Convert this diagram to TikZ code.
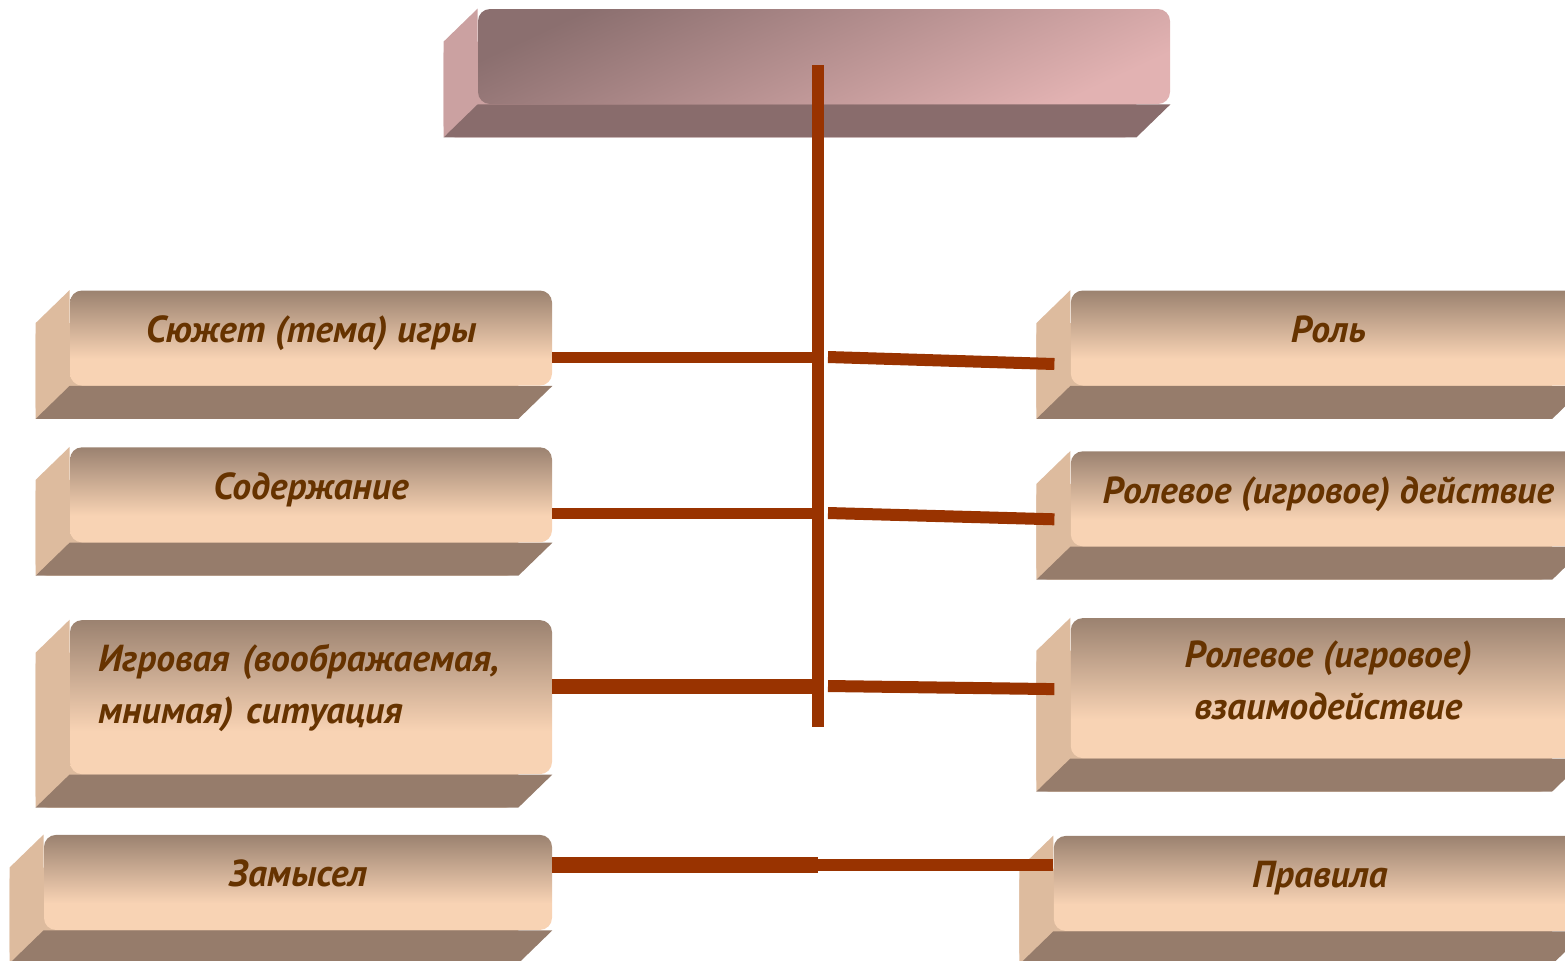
\documentclass[tikz,border=0pt]{standalone}
\usepackage{fontspec}
\setmainfont{PT Sans}
\usetikzlibrary{positioning,calc,backgrounds}

\definecolor{peach}{RGB}{248,211,180}
\definecolor{tandark}{RGB}{155,130,112}
\definecolor{tanside}{RGB}{221,187,158}
\definecolor{tanbase}{RGB}{150,124,107}
\definecolor{rosedark}{RGB}{139,111,111}
\definecolor{roselight}{RGB}{226,178,178}
\definecolor{roseside}{RGB}{203,161,161}
\definecolor{rosebase}{RGB}{137,108,108}
\definecolor{inkbrown}{RGB}{102,51,0}
\definecolor{linkbrown}{RGB}{153,51,0}

\pgfdeclareverticalshading{facefade}{100bp}{color(0bp)=(peach); color(25bp)=(peach); color(39bp)=(peach); color(75bp)=(tandark); color(100bp)=(tandark)}

\begin{document}
\begin{tikzpicture}[x=0.5pt,y=-0.5pt,
    face/.style={rectangle,rounded corners=6pt,shade,shading=facefade,inner sep=0pt,text=inkbrown,
        font=\bfseries\itshape\fontsize{18.8}{26}\selectfont,align=center,minimum height=47.5pt,text depth=9pt},
    topface/.style={face,top color=rosedark,bottom color=roselight,shading angle=25,minimum width=346pt},
    link/.style={draw=linkbrown,line width=6pt}]
    \useasboundingbox (0,0) rectangle (1565,960);

    \node[topface] (aim) at (824,56.5) {};

    \node[face,minimum width=241pt] (l1) at (311,338) {Сюжет (тема) игры};
    \node[face,minimum width=241pt] (l2) [below=30.5pt of l1] {Содержание};
    \node[face,minimum width=241pt,minimum height=77pt,align=left,text width=213pt,inner xsep=14pt,text depth=39pt] (l3) [below=38.5pt of l2] {Игровая (воображаемая,\\мнимая) ситуация};
    \node[face,minimum width=254pt] (l4) [below=30pt of l3.south east,anchor=north east] {Замысел};

    \node[face,minimum width=257.5pt] (r1) [right=259pt of l1] {Роль};
    \node[face,minimum width=257.5pt] (r2) [below=32.5pt of r1] {Ролевое (игровое) действие};
    \node[face,minimum width=257.5pt,minimum height=70pt,text depth=8pt] (r3) [below=35.5pt of r2] {Ролевое (игровое)\\взаимодействие};
    \node[face,minimum width=266pt] (r4) [below=38.5pt of r3.south east,anchor=north east] {Правила};

    % side and bottom of each box
    \begin{scope}[on background layer]
        \foreach \bx/\sd/\bs in {aim/roseside/rosebase,l1/tanside/tanbase,l2/tanside/tanbase,l3/tanside/tanbase,
            l4/tanside/tanbase,r1/tanside/tanbase,r2/tanside/tanbase,r3/tanside/tanbase,r4/tanside/tanbase}{
            \fill[\sd,rounded corners=6pt] ($(\bx.north west)+(-34,33)$) rectangle ($(\bx.south east)+(-34,33)$);
            \fill[\sd] (\bx.north west) -- (\bx.south west) -- ++(-34,33) -- ($(\bx.north west)+(-34,33)$) -- cycle;
            \fill[\bs] (\bx.south west) -- (\bx.south east) -- ++(-34,33) -- ($(\bx.south west)+(-34,33)$) -- cycle;
        }
    \end{scope}

    \coordinate (trunktop) at (818,65);
    \coordinate (trunkend) at (818,727);
    \coordinate (j1) at (818,357);
    \coordinate (j2) at (818,513);
    \coordinate (j3) at (818,686);
    \coordinate (j4) at (818,865);
    \coordinate (k1) at (828,357);
    \coordinate (k2) at (828,513);
    \coordinate (k3) at (828,686);

    \draw[link,line width=5.5pt] (l1.east |- j1) -- (j1);
    \draw[link,line width=5.5pt] (l2.east |- j2) -- (j2);
    \draw[link,line width=7.5pt] (l3.east |- j3) -- (j3);
    \draw[link,line width=8pt] (l4.east |- j4) -- (j4);
    \draw[link] (trunktop) -- (trunkend);
    \draw[link] (k1) -- ($(r1.west)+(-16,26)$);
    \draw[link] (k2) -- ($(r2.west)+(-16,20.5)$);
    \draw[link] (k3) -- ($(r3.west)+(-16,1)$);
    \draw[link] (j4) -- (r4.west |- j4);
\end{tikzpicture}
\end{document}
